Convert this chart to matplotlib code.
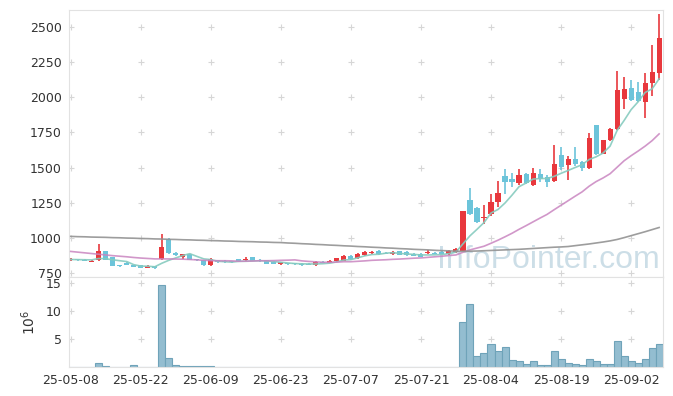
import numpy as np
import pandas as pd
import matplotlib
matplotlib.use("Agg")
import matplotlib.pyplot as plt

# trading days (KRX holidays skipped)
holidays = ["2025-06-03", "2025-06-06", "2025-08-15"]
dates = pd.bdate_range("2025-05-08", "2025-09-08", freq="C", holidays=holidays)

opens = [845, 850, 845, 832, 843, 908, 862, 810, 826, 808, 809, 790, 802, 854, 991,
         897, 869, 885, 849, 842, 809, 842, 837, 835, 849, 842, 863, 845, 842, 832,
         814, 823, 820, 818, 818, 809, 833, 826, 837, 838, 873, 856, 880, 892, 908,
         897, 885, 906, 904, 890, 890, 892, 897, 901, 885, 901, 908, 1271, 1211, 1140,
         1169, 1256, 1441, 1422, 1389, 1452, 1375, 1458, 1437, 1405, 1588, 1519, 1559, 1540, 1496,
         1801, 1600, 1694, 1778, 1991, 2069, 2041, 1967, 2103, 2174]
highs = [858, 853, 848, 842, 955, 910, 866, 812, 830, 812, 812, 810, 805, 1027, 998,
         902, 890, 888, 852, 845, 855, 846, 842, 840, 852, 862, 866, 849, 845, 835,
         833, 826, 823, 822, 822, 835, 836, 842, 860, 877, 878, 892, 910, 905, 912,
         900, 906, 910, 908, 894, 894, 915, 902, 905, 915, 930, 1195, 1358, 1218, 1233,
         1311, 1405, 1494, 1465, 1488, 1465, 1495, 1488, 1445, 1659, 1647, 1580, 1650, 1548, 1749,
         1805, 1700, 1780, 2188, 2141, 2124, 2112, 2174, 2369, 2589]
lows = [840, 838, 836, 828, 838, 842, 800, 798, 808, 792, 788, 785, 780, 842, 890,
        872, 849, 844, 840, 805, 805, 825, 822, 820, 833, 838, 834, 833, 815, 815,
        810, 810, 810, 805, 808, 805, 820, 822, 833, 835, 845, 852, 876, 888, 880,
        884, 880, 878, 874, 870, 862, 888, 884, 884, 880, 897, 905, 1162, 1110, 1098,
        1160, 1219, 1316, 1365, 1380, 1382, 1370, 1396, 1364, 1400, 1486, 1410, 1515, 1475, 1494,
        1590, 1595, 1690, 1770, 1914, 1975, 1965, 1852, 2010, 2125]
closes = [852, 842, 840, 838, 905, 842, 805, 803, 812, 795, 790, 800, 785, 937, 897,
          878, 885, 847, 842, 809, 851, 828, 828, 830, 837, 854, 837, 837, 818, 818,
          828, 814, 815, 809, 812, 830, 823, 837, 855, 873, 849, 887, 904, 901, 885,
          888, 901, 882, 878, 873, 866, 901, 888, 888, 908, 920, 1192, 1171, 1117, 1150,
          1259, 1320, 1398, 1398, 1451, 1389, 1460, 1417, 1398, 1524, 1502, 1559, 1524, 1496, 1709,
          1595, 1694, 1772, 2050, 2062, 1981, 1974, 2103, 2179, 2418]
# volume in millions of shares
volume = [0.05, 0.05, 0.05, 0.05, 0.7, 0.3, 0.12, 0.05, 0.05, 0.35, 0.05, 0.05, 0.1, 14.5, 1.6,
          0.35, 0.15, 0.15, 0.15, 0.15, 0.3, 0.12, 0.12, 0.12, 0.03, 0.03, 0.03, 0.03, 0.03, 0.03,
          0.03, 0.03, 0.03, 0.03, 0.03, 0.03, 0.03, 0.03, 0.03, 0.1, 0.1, 0.03, 0.1, 0.03, 0.03,
          0.03, 0.03, 0.03, 0.03, 0.03, 0.03, 0.1, 0.1, 0.03, 0.03, 0.05, 8.0, 11.25, 2.0, 2.5,
          4.15, 2.9, 3.6, 1.3, 1.1, 0.5, 1.1, 0.4, 0.4, 2.9, 1.5, 0.7, 0.5, 0.4, 1.5,
          1.1, 0.5, 0.5, 4.7, 2.0, 1.1, 0.75, 1.5, 3.45, 4.15]
ma5 = [848, 847, 846, 845, 855, 853, 846, 839, 833, 811, 801, 800, 796, 821, 842,
       859, 876, 889, 870, 852, 847, 835, 832, 829, 835, 835, 837, 839, 837, 833,
       828, 823, 819, 817, 816, 816, 818, 822, 831, 844, 847, 860, 874, 883, 885,
       893, 896, 891, 887, 884, 880, 880, 881, 883, 890, 901, 959, 1016, 1062, 1110,
       1178, 1203, 1249, 1305, 1365, 1391, 1419, 1423, 1423, 1438, 1460, 1480, 1501, 1521, 1558,
       1577, 1604, 1653, 1764, 1835, 1912, 1968, 2034, 2060, 2131]
ma20 = [905, 900, 895, 890, 885, 880, 875, 871, 867, 862, 858, 855, 852, 852, 852,
        851, 850, 848, 845, 842, 840, 839, 839, 838, 835, 836, 837, 839, 839, 840,
        842, 843, 845, 838, 834, 831, 828, 828, 829, 832, 832, 835, 838, 842, 844,
        846, 849, 851, 854, 857, 859, 863, 867, 871, 876, 880, 899, 916, 929, 942,
        963, 985, 1009, 1034, 1062, 1088, 1115, 1142, 1168, 1201, 1233, 1265, 1297, 1328, 1368,
        1401, 1427, 1457, 1503, 1549, 1585, 1618, 1653, 1692, 1740]
ma120 = [1012, 1010, 1009, 1007, 1006, 1005, 1003, 1002, 1000, 999, 997, 996, 994, 993, 991,
         990, 988, 987, 985, 984, 982, 981, 979, 978, 976, 975, 974, 972, 971, 969,
         968, 965, 963, 960, 958, 955, 953, 950, 948, 945, 943, 940, 938, 935, 933,
         930, 928, 925, 923, 920, 918, 916, 913, 911, 909, 907, 906, 907, 908, 910,
         912, 914, 916, 918, 920, 923, 926, 929, 932, 935, 937, 940, 946, 952, 958,
         965, 972, 980, 990, 1003, 1017, 1031, 1045, 1060, 1075]

UP = "#e8383d"
DOWN = "#6cc4da"
SPINE = "#e2e2e2"
TXT = "#333333"

x = np.arange(len(dates))
o = np.array(opens, float)
c = np.array(closes, float)
up = c >= o
col = np.where(up, UP, DOWN)

fig = plt.figure(figsize=(6.73, 3.96), dpi=100)
ax = fig.add_axes([0.1025, 0.300, 0.8831, 0.6747])
axv = fig.add_axes([0.1025, 0.0725, 0.8831, 0.2275], sharex=ax)

# candles
ax.vlines(x, lows, highs, colors=col, linewidth=1.2, zorder=2)
body = np.maximum(np.abs(c - o), 3)
ax.bar(x, body, bottom=np.minimum(o, c), width=0.72, color=col, linewidth=0, zorder=2)

# moving averages
ax.plot(x, ma5, color="#86cbbf", lw=1.2, alpha=0.9, zorder=3)
ax.plot(x, ma20, color="#c985c0", lw=1.2, alpha=0.85, zorder=3)
ax.plot(x, ma120, color="#939393", lw=1.2, alpha=0.9, zorder=3)

ax.text(0.62, 0.035, "InfoPointer.com", transform=ax.transAxes, fontsize=23,
        family="Liberation Sans", color="#bcd3df", alpha=0.75, ha="left", va="baseline", zorder=1)

# volume
axv.bar(x, volume, width=1.0, color="#93bdd0", edgecolor="#6fa3b9", linewidth=0.8, zorder=2)

ax.set_xlim(-0.25, 84.6)
ax.set_ylim(722, 2620)
axv.set_ylim(0, 15.95)

yt = np.arange(750, 2501, 250)
xt = np.arange(0, len(dates), 10)
vt = [5, 10, 15]
ax.set_yticks(yt)
axv.set_yticks(vt)
axv.set_xticks(xt)
axv.set_xticklabels([dates[i].strftime("%y-%m-%d") for i in xt])
plt.setp(ax.get_xticklabels(), visible=False)

# plus-shaped grid marks
for a, ys in ((ax, yt), (axv, vt)):
    gx, gy = np.meshgrid(xt, ys)
    a.plot(gx.ravel(), gy.ravel(), "+", color="#d6d6d6", ms=5, mew=0.8, zorder=0)
    a.tick_params(length=0, labelsize=9, colors=TXT, pad=5)
    for s in a.spines.values():
        s.set_color(SPINE)

axv.set_ylabel(r"$10^{6}$", fontsize=10, color=TXT, labelpad=6)

fig.savefig("out.png", dpi=100)
